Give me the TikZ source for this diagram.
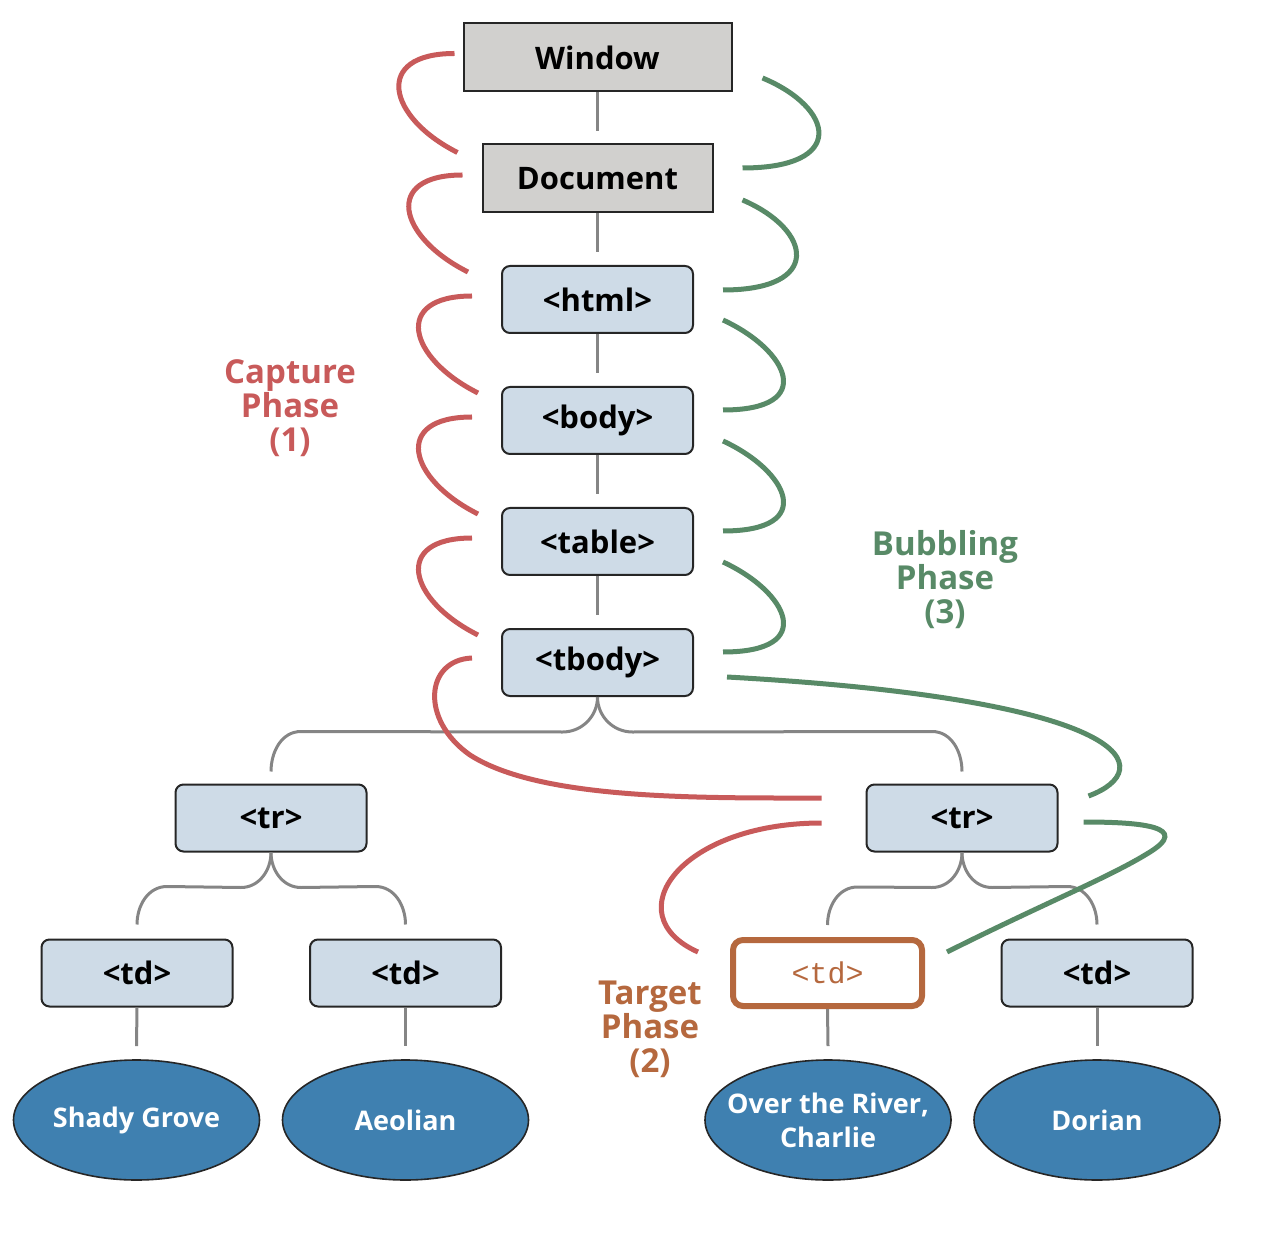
\documentclass[tikz,border=0pt]{standalone}
\usepackage{fontspec}
\setmainfont{Open Sans}
\newfontfamily\codefont{Liberation Mono}
\usetikzlibrary{calc}
\usetikzlibrary{shapes.geometric}

\definecolor{capturered}{HTML}{C85A5A}
\definecolor{bubblegreen}{HTML}{588A67}
\definecolor{targetbrown}{HTML}{B5683E}
\definecolor{winfill}{HTML}{D1D0CE}
\definecolor{tagfill}{HTML}{CEDBE7}
\definecolor{leaffill}{HTML}{3F80B0}
\definecolor{treegray}{HTML}{858585}

\tikzset{
  winbox/.style={draw=black!85, fill=winfill, line width=1pt,
    minimum width=134pt, minimum height=34pt,
    font=\fontsize{15.5}{18}\selectfont\bfseries},
  tagbox/.style={draw=black!85, fill=tagfill, line width=1pt,
    rounded corners=4pt, minimum width=95.5pt, minimum height=33.5pt,
    font=\fontsize{15.5}{18}\selectfont\bfseries},
  targetbox/.style={draw=targetbrown, line width=3pt, rounded corners=5pt,
    minimum width=94.5pt, minimum height=33pt, text=targetbrown,
    font=\codefont\fontsize{15}{18}\selectfont},
  leaf/.style={ellipse, draw=black!85, fill=leaffill, line width=0.8pt,
    minimum width=123pt, minimum height=60pt, inner xsep=-10pt, inner ysep=0pt,
    text=white, align=center, font=\fontsize{13.5}{17}\selectfont\bfseries},
  tree/.style={draw=treegray, line width=1.5pt},
  capture/.style={draw=capturered, line width=2.5pt},
  bubble/.style={draw=bubblegreen, line width=2.5pt},
  phase/.style={align=center, font=\fontsize{16.5}{17}\selectfont\bfseries},
}

\begin{document}
\begin{tikzpicture}[x=0.5pt, y=-0.5pt]
\useasboundingbox (0,0) rectangle (1262,1234);

% the chain
\node[winbox] (win) at (597.5,57.5) {Window};
\node[winbox, minimum width=115pt] (doc) at (597.5,178.5) {Document};
\node[tagbox] (html) at (597.5,299.5) {<html>};
\node[tagbox] (body) at (597.5,420.5) {<body>};
\node[tagbox] (table) at (597.5,541.5) {<table>};
\node[tagbox] (tbody) at (597.5,662.5) {<tbody>};
\node[tagbox] (trl) at (271,818) {<tr>};
\node[tagbox] (trr) at (962,818) {<tr>};
\node[tagbox] (tda) at (137,973) {<td>};
\node[tagbox] (tdb) at (405.5,973) {<td>};
\node[targetbox] (tdc) at (827.5,973) {<td>};
\node[tagbox] (tdd) at (1097,973) {<td>};

% the songs
\node[leaf] (leafa) at (136.5,1120) {Shady Grove};
\node[leaf] (leafb) at (405.5,1120) {Aeolian};
\node[leaf] (leafc) at (828,1120) {Over the River,\\Charlie};
\node[leaf] (leafd) at (1097,1120) {Dorian};

% phases
\node[phase, text=capturered] (caplbl) at (290,408) {Capture\\Phase\\(1)};
\node[phase, text=bubblegreen] (bublbl) at (945,580) {Bubbling\\Phase\\(3)};
\node[phase, text=targetbrown] (tarlbl) at (650,1029) {Target\\Phase\\(2)};

% tree lines
\draw[tree] (win.south) -- ($(doc.north)+(0,-12)$);
\draw[tree] (doc.south) -- ($(html.north)+(0,-13)$);
\draw[tree] (html.south) -- ($(body.north)+(0,-13)$);
\draw[tree] (body.south) -- ($(table.north)+(0,-13)$);
\draw[tree] (table.south) -- ($(tbody.north)+(0,-13)$);
\draw[tree]
     (tbody.south) to[out=-90,in=0] ($(tbody.south)+(-35,35)$)
  -- ($(trl.north)+(30,-52)$) to[out=180,in=90] ($(trl.north)+(0,-12)$);
\draw[tree]
     (tbody.south) to[out=-90,in=180] ($(tbody.south)+(35,35)$)
  -- ($(trr.north)+(-30,-52)$) to[out=0,in=90] ($(trr.north)+(0,-12)$);
\draw[tree]
     (trl.south) to[out=-90,in=0] ($(trl.south)+(-30,35)$)
  -- ($(tda.north)+(30,-52)$) to[out=180,in=90] ($(tda.north)+(0,-14)$);
\draw[tree]
     (trl.south) to[out=-90,in=180] ($(trl.south)+(30,35)$)
  -- ($(tdb.north)+(-30,-52)$) to[out=0,in=90] ($(tdb.north)+(0,-14)$);
\draw[tree]
     (trr.south) to[out=-90,in=0] ($(trr.south)+(-30,35)$)
  -- ($(tdc.north)+(30,-50)$) to[out=180,in=90] ($(tdc.north)+(0,-12)$);
\draw[tree]
     (trr.south) to[out=-90,in=180] ($(trr.south)+(30,35)$)
  -- ($(tdd.north)+(-30,-52)$) to[out=0,in=90] ($(tdd.north)+(0,-14)$);
\draw[tree] (tda.south) -- ($(leafa.north)+(0,-13)$);
\draw[tree] (tdb.south) -- ($(leafb.north)+(0,-13)$);
\draw[tree] (tdc.south) -- ($(leafc.north)+(0,-13)$);
\draw[tree] (tdd.south) -- ($(leafd.north)+(0,-13)$);

% capture, going down
\draw[capture] ($(win.west)+(-8,-4)$)
  .. controls +(-82,0) and +(-70,-35) .. ($(doc.west)+(-24,-26)$);
\draw[capture] ($(doc.west)+(-19,-3.5)$)
  .. controls +(-80,0) and +(-70,-35) .. ($(html.west)+(-33,-27.5)$);
\draw[capture] ($(html.west)+(-29,-3.5)$)
  .. controls +(-80,0) and +(-70,-35) .. ($(body.west)+(-23,-27.5)$);
\draw[capture] ($(body.west)+(-29,-3.5)$)
  .. controls +(-80,0) and +(-70,-35) .. ($(table.west)+(-23,-27.5)$);
\draw[capture] ($(table.west)+(-29,-3.5)$)
  .. controls +(-80,0) and +(-70,-35) .. ($(tbody.west)+(-23,-27.5)$);
\draw[capture] ($(tbody.west)+(-29,-4.5)$)
  .. controls +(-47,2) and +(-50,-35) .. ++(-2,97)
  .. controls +(70,45) and +(-122,0) .. ($(trr.west)+(-44,-20)$);
\draw[capture] ($(trr.west)+(-44,5)$)
  .. controls +(-142,0) and +(-83,-37) .. ($(tdc.west)+(-32,-21)$);

% bubbling, going up
\draw[bubble] ($(doc.east)+(29,-10.5)$)
  .. controls +(105,0) and +(72,30) .. ($(win.east)+(30,20.5)$);
\draw[bubble] ($(html.east)+(29,-9.5)$)
  .. controls +(100,0) and +(70,30) .. ($(doc.east)+(29,21.5)$);
\draw[bubble] ($(body.east)+(29,-10.5)$)
  .. controls +(95,0) and +(65,30) .. ($(html.east)+(29,20.5)$);
\draw[bubble] ($(table.east)+(29,-10.5)$)
  .. controls +(95,0) and +(65,30) .. ($(body.east)+(29,20.5)$);
\draw[bubble] ($(tbody.east)+(29,-10.5)$)
  .. controls +(95,0) and +(65,30) .. ($(table.east)+(29,20.5)$);
\draw[bubble] ($(trr.east)+(30,-22)$)
  .. controls +(70,-26) and +(413,23) .. ($(tbody.east)+(33,14.5)$);
\draw[bubble] ($(tdc.east)+(22,-21)$)
  .. controls +(100,-50) and +(-40,25) .. ++(203,-100)
  .. controls +(40,-25) and +(60,0) .. ($(trr.east)+(25,4)$);
\end{tikzpicture}
\end{document}
